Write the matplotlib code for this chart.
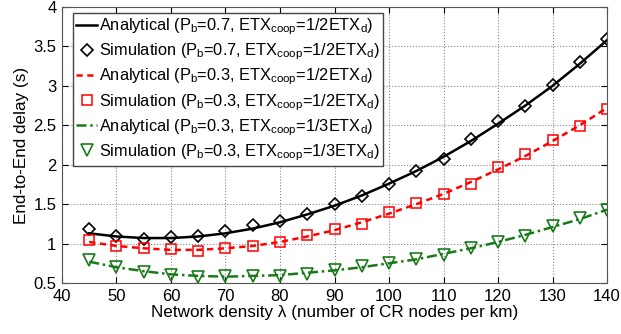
import matplotlib
matplotlib.use("Agg")
import matplotlib.pyplot as plt

plt.rcParams['font.family'] = ['Liberation Sans', 'DejaVu Sans']
plt.rcParams['mathtext.fontset'] = 'custom'
plt.rcParams['mathtext.rm'] = 'Liberation Sans'
plt.rcParams['mathtext.it'] = 'Liberation Sans:italic'

density = [45, 50, 55, 60, 65, 70, 75, 80, 85, 90, 95, 100, 105, 110, 115, 120, 125, 130, 135, 140]

ana_07_half = [1.13, 1.09, 1.07, 1.07, 1.09, 1.13, 1.19, 1.27, 1.37, 1.48,
               1.61, 1.76, 1.92, 2.10, 2.30, 2.52, 2.75, 3.00, 3.28, 3.58]
sim_07_half = [1.18, 1.09, 1.06, 1.08, 1.10, 1.16, 1.24, 1.29, 1.38, 1.50,
               1.60, 1.76, 1.92, 2.07, 2.33, 2.56, 2.75, 3.01, 3.30, 3.59]

ana_03_half = [1.02, 0.97, 0.94, 0.92, 0.92, 0.94, 0.97, 1.02, 1.09, 1.17,
               1.27, 1.38, 1.50, 1.63, 1.78, 1.94, 2.11, 2.30, 2.50, 2.72]
sim_03_half = [1.04, 0.97, 0.95, 0.93, 0.91, 0.95, 0.97, 1.02, 1.11, 1.18,
               1.25, 1.40, 1.51, 1.63, 1.76, 1.97, 2.13, 2.31, 2.49, 2.71]

ana_03_third = [0.77, 0.70, 0.65, 0.61, 0.59, 0.58, 0.59, 0.60, 0.63, 0.66,
                0.70, 0.75, 0.80, 0.87, 0.94, 1.02, 1.11, 1.21, 1.31, 1.43]
sim_03_third = [0.79, 0.70, 0.64, 0.60, 0.58, 0.59, 0.59, 0.59, 0.62, 0.67,
                0.71, 0.75, 0.81, 0.86, 0.95, 1.02, 1.10, 1.22, 1.32, 1.42]

labels = [
    r'Analytical (P$_\mathregular{b}$=0.7, ETX$_\mathregular{coop}$=1/2ETX$_\mathregular{d}$)',
    r'Simulation (P$_\mathregular{b}$=0.7, ETX$_\mathregular{coop}$=1/2ETX$_\mathregular{d}$)',
    r'Analytical (P$_\mathregular{b}$=0.3, ETX$_\mathregular{coop}$=1/2ETX$_\mathregular{d}$)',
    r'Simulation (P$_\mathregular{b}$=0.3, ETX$_\mathregular{coop}$=1/2ETX$_\mathregular{d}$)',
    r'Analytical (P$_\mathregular{b}$=0.3, ETX$_\mathregular{coop}$=1/3ETX$_\mathregular{d}$)',
    r'Simulation (P$_\mathregular{b}$=0.3, ETX$_\mathregular{coop}$=1/3ETX$_\mathregular{d}$)',
]

green = '#1a7a1a'

fig = plt.figure(figsize=(6.21, 3.34), dpi=100)
ax = fig.add_axes([0.0998, 0.1527, 0.8777, 0.8263])

ax.plot(density, ana_07_half, '-', color='black', lw=1.8, label=labels[0])
ax.plot(density, sim_07_half, 'D', color='black', mfc='none', ms=6.5, mew=1.2, label=labels[1])
ax.plot(density, ana_03_half, '--', color='red', lw=1.8, dashes=(2.5, 1.8), label=labels[2])
ax.plot(density, sim_03_half, 's', color='red', mfc='none', ms=7, mew=1.1, label=labels[3])
ax.plot(density, ana_03_third, '-.', color=green, lw=1.8, dashes=(4, 1.5, 1, 1.5), label=labels[4])
ax.plot(density, sim_03_third, 'v', color=green, mfc='none', ms=8.5, mew=1.2, label=labels[5])

ax.set_xlim(40, 140)
ax.set_ylim(0.5, 4)
ax.set_xticks(range(40, 141, 10))
ax.set_yticks([0.5, 1, 1.5, 2, 2.5, 3, 3.5, 4])
ax.set_yticklabels(['0.5', '1', '1.5', '2', '2.5', '3', '3.5', '4'])
ax.tick_params(direction='in', top=True, right=True, labelsize=12, length=4, pad=4)
ax.grid(True, linestyle=':', color='#888888', lw=0.8)
for s in ax.spines.values():
    s.set_color('#555555')

ax.set_xlabel('Network density λ (number of CR nodes per km)', fontsize=12.3, labelpad=1)
ax.set_ylabel('End-to-End delay (s)', fontsize=12.3, labelpad=3)

leg = ax.legend(loc='upper left', bbox_to_anchor=(0.02, 0.978), fontsize=11.8,
                handlelength=1.3, handletextpad=0.1, labelspacing=0.28,
                borderpad=0.2, borderaxespad=0, fancybox=False, framealpha=1,
                edgecolor='#444444')
leg.get_frame().set_linewidth(1.0)

fig.savefig('out.png', dpi=100)
